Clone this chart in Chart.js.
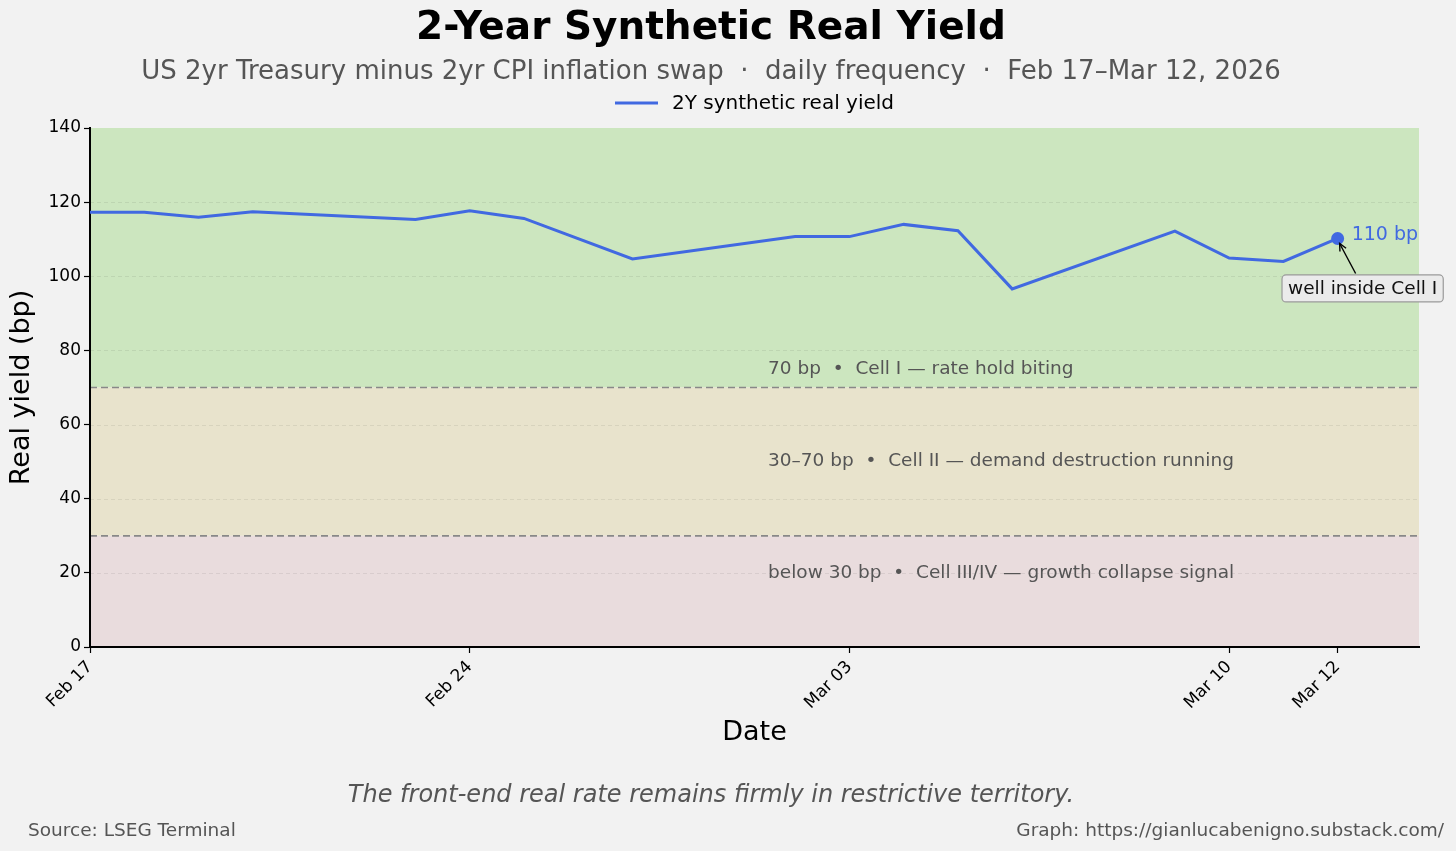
<!DOCTYPE html>
<html>
<head>
<meta charset="utf-8">
<title>2-Year Synthetic Real Yield</title>
<script src="https://cdn.jsdelivr.net/npm/chart.js@4.4.1/dist/chart.umd.min.js"></script>
<style>
  html, body { margin: 0; padding: 0; background: #f2f2f2; }
  #wrap { width: 1456px; height: 851px; position: relative; }
</style>
</head>
<body>
<div id="wrap"><canvas id="yieldChart"></canvas></div>
<script>
// days after Feb 17, 2026 (trading days only)
const dayOffsets = [0, 1, 2, 3, 6, 7, 8, 10, 13, 14, 15, 16, 17, 20, 21, 22, 23];
const dateLabels = ['Feb 17', 'Feb 18', 'Feb 19', 'Feb 20', 'Feb 23', 'Feb 24', 'Feb 25', 'Feb 27',
                    'Mar 02', 'Mar 03', 'Mar 04', 'Mar 05', 'Mar 06', 'Mar 09', 'Mar 10', 'Mar 11', 'Mar 12'];
const realYield = [117.3, 117.3, 115.9, 117.4, 115.3, 117.7, 115.6, 104.7,
                   110.7, 110.7, 114.0, 112.3, 96.6, 112.2, 104.9, 104.0, 110.2];

const tickDays = [0, 7, 14, 21, 23];
const tickLabels = ['Feb 17', 'Feb 24', 'Mar 03', 'Mar 10', 'Mar 12'];
const xRange = [0, 24.5];
const yRange = [0, 140];

const zoneBounds = [[70, 140], [30, 70], [0, 30]];
const thresholds = [70, 30];
const zoneNotes = ['70 bp  •  Cell I — rate hold biting',
                   '30–70 bp  •  Cell II — demand destruction running',
                   'below 30 bp  •  Cell III/IV — growth collapse signal'];
const zoneNoteValues = [75, 50, 20];
const zoneNoteDay = 12.5;

const seriesName = '2Y synthetic real yield';
const lastLabel = '110 bp';
const calloutText = 'well inside Cell I';

const FONT = "'DejaVu Sans', sans-serif";
const BLUE = '#4169e1';
const zoneColors = ['#cce6bf', '#e8e3cc', '#e9dcdd'];

const zonePlugin = {
    id: 'zones',
    beforeDraw(chart) {
        const { ctx, chartArea: a, scales: { x, y } } = chart;
        ctx.save();
        // regime bands
        zoneBounds.forEach((b, i) => {
            const top = y.getPixelForValue(b[1]);
            const bot = y.getPixelForValue(b[0]);
            ctx.fillStyle = zoneColors[i];
            ctx.fillRect(a.left, top, a.right - a.left, bot - top);
        });
        // faint dashed grid
        ctx.strokeStyle = 'rgba(0,0,0,0.07)';
        ctx.lineWidth = 1;
        ctx.setLineDash([4, 3]);
        y.ticks.forEach(t => {
            if (t.value <= yRange[0] || t.value >= yRange[1]) return;
            const py = Math.round(y.getPixelForValue(t.value)) + 0.5;
            ctx.beginPath();
            ctx.moveTo(a.left, py);
            ctx.lineTo(a.right, py);
            ctx.stroke();
        });
        // thresholds
        ctx.strokeStyle = '#888888';
        ctx.lineWidth = 1.7;
        ctx.setLineDash([7, 4]);
        thresholds.forEach(v => {
            const py = y.getPixelForValue(v);
            ctx.beginPath();
            ctx.moveTo(a.left, py);
            ctx.lineTo(a.right, py);
            ctx.stroke();
        });
        ctx.setLineDash([]);
        // zone notes
        ctx.fillStyle = '#555555';
        ctx.font = '18.5px ' + FONT;
        ctx.textAlign = 'left';
        ctx.textBaseline = 'middle';
        zoneNotes.forEach((txt, i) => {
            ctx.fillText(txt, x.getPixelForValue(zoneNoteDay), y.getPixelForValue(zoneNoteValues[i]));
        });
        ctx.restore();
    },
    afterDatasetsDraw(chart) {
        const { ctx } = chart;
        const meta = chart.getDatasetMeta(0);
        const pt = meta.data[meta.data.length - 1];
        ctx.save();
        // end value label
        ctx.fillStyle = BLUE;
        ctx.font = '19px ' + FONT;
        ctx.textAlign = 'left';
        ctx.textBaseline = 'middle';
        ctx.fillText(lastLabel, pt.x + 14, pt.y - 3);

        // callout box
        ctx.font = '18.5px ' + FONT;
        const w = ctx.measureText(calloutText).width + 12;
        const h = 27;
        const cx = pt.x + 25, cy = pt.y + 50;
        ctx.beginPath();
        ctx.roundRect(cx - w / 2, cy - h / 2, w, h, 4);
        ctx.fillStyle = '#ebebeb';
        ctx.fill();
        ctx.strokeStyle = '#9a9a9a';
        ctx.lineWidth = 1.2;
        ctx.stroke();
        ctx.fillStyle = '#111';
        ctx.textAlign = 'center';
        ctx.fillText(calloutText, cx, cy + 1);

        // arrow
        const tx = pt.x + 18, ty = pt.y + 35;
        const hx = pt.x + 2, hy = pt.y + 5;
        ctx.strokeStyle = '#000';
        ctx.lineWidth = 1.4;
        ctx.beginPath();
        ctx.moveTo(tx, ty);
        ctx.lineTo(hx, hy);
        ctx.stroke();
        const ang = Math.atan2(hy - ty, hx - tx);
        ctx.beginPath();
        ctx.moveTo(hx - 8 * Math.cos(ang - 0.45), hy - 8 * Math.sin(ang - 0.45));
        ctx.lineTo(hx, hy);
        ctx.lineTo(hx - 8 * Math.cos(ang + 0.45), hy - 8 * Math.sin(ang + 0.45));
        ctx.stroke();
        ctx.restore();
    },
    afterDraw(chart) {
        const { ctx, chartArea: a } = chart;
        const mid = 711;
        ctx.save();
        ctx.textAlign = 'center';
        ctx.textBaseline = 'middle';
        ctx.fillStyle = '#000';
        ctx.font = 'bold 39px ' + FONT;
        ctx.fillText('2-Year Synthetic Real Yield', mid, 29);
        ctx.fillStyle = '#555555';
        ctx.font = '26px ' + FONT;
        ctx.fillText('US 2yr Treasury minus 2yr CPI inflation swap  ·  daily frequency  ·  Feb 17–Mar 12, 2026', mid, 72);

        // legend
        ctx.font = '20px ' + FONT;
        const tw = ctx.measureText(seriesName).width;
        const total = 43 + 14 + tw;
        const lx = (a.left + a.right) / 2 - total / 2;
        ctx.strokeStyle = BLUE;
        ctx.lineWidth = 3;
        ctx.beginPath();
        ctx.moveTo(lx, 103);
        ctx.lineTo(lx + 43, 103);
        ctx.stroke();
        ctx.fillStyle = '#000';
        ctx.textAlign = 'left';
        ctx.fillText(seriesName, lx + 57, 104);

        // footer
        ctx.fillStyle = '#555555';
        ctx.textAlign = 'center';
        ctx.font = 'italic 24px ' + FONT;
        ctx.fillText('The front-end real rate remains firmly in restrictive territory.', mid, 796);
        ctx.font = '18.5px ' + FONT;
        ctx.textAlign = 'left';
        ctx.fillText('Source: LSEG Terminal', 28, 831);
        ctx.textAlign = 'right';
        ctx.fillText('Graph: https://gianlucabenigno.substack.com/', 1444, 831);
        ctx.restore();
    }
};

const points = dayOffsets.map((d, i) => ({ x: d, y: realYield[i] }));

new Chart(document.getElementById('yieldChart'), {
    type: 'line',
    data: {
        datasets: [{
            label: seriesName,
            data: points,
            borderColor: BLUE,
            backgroundColor: BLUE,
            borderWidth: 3,
            tension: 0,
            pointRadius: ctx => ctx.dataIndex === realYield.length - 1 ? 5 : 0,
            pointHoverRadius: 0,
            clip: false
        }]
    },
    options: {
        responsive: true,
        maintainAspectRatio: false,
        animation: false,
        devicePixelRatio: 1,
        layout: { padding: { top: 128, right: 37, bottom: 98, left: 0 } },
        plugins: {
            legend: { display: false },
            title: { display: false },
            tooltip: { enabled: false }
        },
        scales: {
            x: {
                type: 'linear',
                min: xRange[0],
                max: xRange[1],
                afterBuildTicks: s => { s.ticks = tickDays.map(v => ({ value: v })); },
                afterFit: s => { s.height = 106; },
                ticks: {
                    autoSkip: false,
                    minRotation: 45,
                    maxRotation: 45,
                    color: '#000',
                    padding: 4,
                    font: { family: FONT, size: 17 },
                    callback: v => tickLabels[tickDays.indexOf(v)]
                },
                grid: { drawOnChartArea: false, color: '#000', tickLength: 6, tickWidth: 1.2 },
                border: { color: '#000', width: 2 },
                title: {
                    display: true,
                    text: 'Date',
                    color: '#000',
                    font: { family: FONT, size: 27 },
                    padding: { top: 4, bottom: 4 }
                }
            },
            y: {
                min: yRange[0],
                max: yRange[1],
                afterFit: s => { s.width = 90; },
                ticks: {
                    stepSize: 20,
                    color: '#000',
                    padding: 3,
                    font: { family: FONT, size: 17 }
                },
                grid: { drawOnChartArea: false, color: '#000', tickLength: 6, tickWidth: 1.2 },
                border: { color: '#000', width: 2 },
                title: {
                    display: true,
                    text: 'Real yield (bp)',
                    color: '#000',
                    font: { family: FONT, size: 27 },
                    padding: { top: 6, bottom: 4 }
                }
            }
        }
    },
    plugins: [zonePlugin]
});
</script>
</body>
</html>
